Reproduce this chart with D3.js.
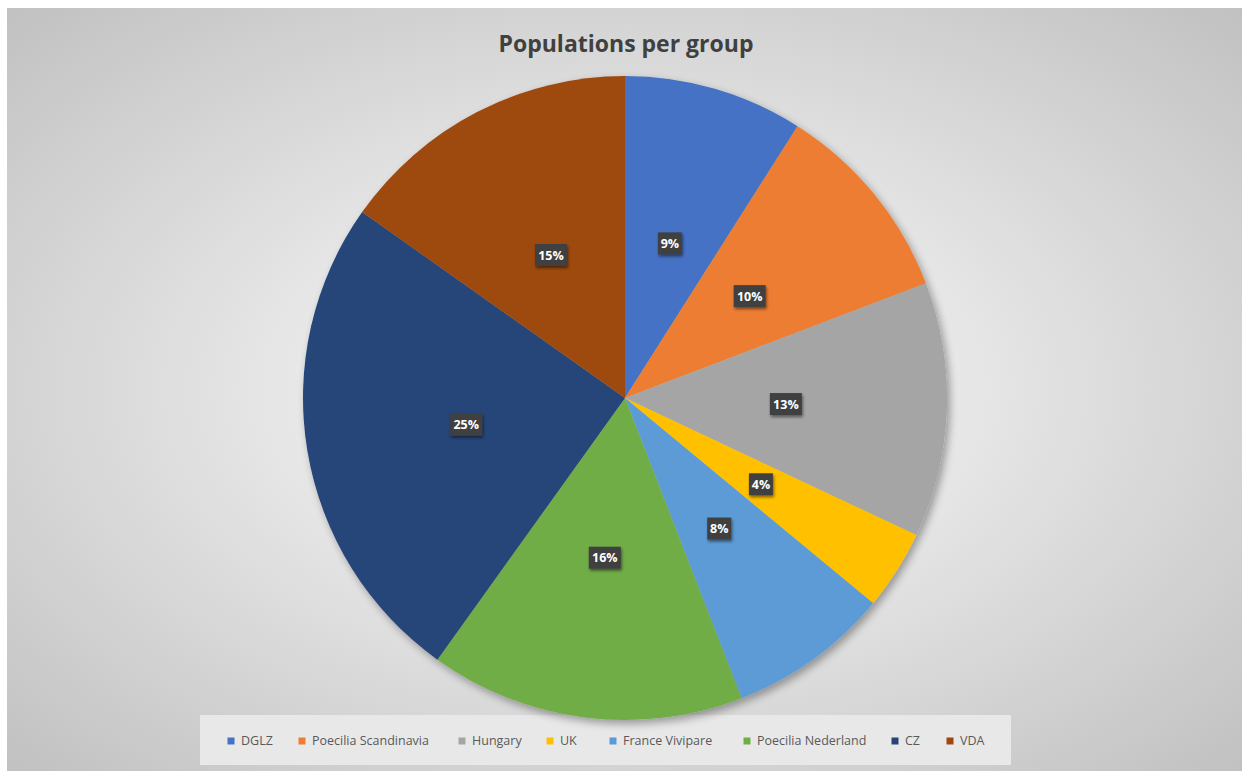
<!DOCTYPE html>
<html><head><meta charset="utf-8">
<script src="https://cdn.jsdelivr.net/npm/d3@7"></script>
<style>html,body{margin:0;padding:0;background:#fff;overflow:hidden}</style>
</head><body>
<svg id="chart" width="1242" height="771"></svg>
<script>
const categories = ["DGLZ","Poecilia Scandinavia","Hungary","UK","France Vivipare","Poecilia Nederland","CZ","VDA"];
const values = [9.0, 10.2, 12.8, 4.0, 8.1, 15.8, 24.9, 15.2];
const labels = ["9%","10%","13%","4%","8%","16%","25%","15%"];
const colors = ["#4472C4","#ED7D31","#A5A5A5","#FFC000","#5B9BD5","#70AD47","#264478","#9E480E"];
const title = "Populations per group";

const svg = d3.select("#chart");
const W = 1242, H = 771;
const defs = svg.append("defs");
const rg = defs.append("radialGradient").attr("id","bg").attr("cx","50%").attr("cy","50%").attr("r","75%");
rg.append("stop").attr("offset","0%").attr("stop-color","#ffffff");
rg.append("stop").attr("offset","100%").attr("stop-color","#bdbdbd");
const f = defs.append("filter").attr("id","sh").attr("x","-20%").attr("y","-20%").attr("width","140%").attr("height","140%");
f.append("feGaussianBlur").attr("in","SourceAlpha").attr("stdDeviation",4).attr("result","b");
f.append("feOffset").attr("in","b").attr("dx",3).attr("dy",4).attr("result","o");
f.append("feComponentTransfer").attr("in","o").attr("result","o2").append("feFuncA").attr("type","linear").attr("slope",0.35);
const m = f.append("feMerge"); m.append("feMergeNode").attr("in","o2"); m.append("feMergeNode").attr("in","SourceGraphic");
const f2 = defs.append("filter").attr("id","lsh").attr("x","-30%").attr("y","-30%").attr("width","160%").attr("height","160%");
f2.append("feGaussianBlur").attr("in","SourceAlpha").attr("stdDeviation",1.5).attr("result","b");
f2.append("feOffset").attr("in","b").attr("dx",1).attr("dy",1.5).attr("result","o");
f2.append("feComponentTransfer").attr("in","o").attr("result","o2").append("feFuncA").attr("type","linear").attr("slope",0.5);
const m2 = f2.append("feMerge"); m2.append("feMergeNode").attr("in","o2"); m2.append("feMergeNode").attr("in","SourceGraphic");

svg.append("rect").attr("x",7).attr("y",8).attr("width",W-7).attr("height",H-8).attr("fill","url(#bg)");

svg.append("text").attr("x",626).attr("y",52).attr("text-anchor","middle")
  .attr("font-family","'Open Sans', sans-serif").attr("font-weight","bold").attr("font-size",23)
  .attr("fill","#404040").text(title);

svg.append("rect").attr("x",200).attr("y",715).attr("width",811).attr("height",50).attr("fill","#e8e8e8");

const cx = 625, cy = 398, R = 322;
const pie = d3.pie().sort(null).value(d => d)(values);
const arc = d3.arc().innerRadius(0).outerRadius(R);
const g = svg.append("g").attr("transform",`translate(${cx},${cy})`);
g.append("g").attr("filter","url(#sh)").selectAll("path").data(pie).join("path")
  .attr("d",arc).attr("fill",(d,i)=>colors[i]);

const lab = d3.arc().innerRadius(R*0.5).outerRadius(R*0.5);
const lg = g.selectAll("g.lab").data(pie).join("g").attr("class","lab")
  .attr("transform",d=>`translate(${lab.centroid(d)})`);
lg.each(function(d,i){
  const s = d3.select(this);
  const w = labels[i].length*8 + 8;
  s.append("rect").attr("x",-w/2).attr("y",-11).attr("width",w).attr("height",22)
    .attr("fill","#404040").attr("filter","url(#lsh)");
  s.append("text").attr("text-anchor","middle").attr("dy","0.36em")
    .attr("font-family","'Open Sans', sans-serif").attr("font-weight","bold").attr("font-size",12.5)
    .attr("fill","#ffffff").text(labels[i]);
});

const legX = [231,302,462,550,613,747,895,950];
const leg = svg.selectAll("g.leg").data(categories).join("g").attr("class","leg")
  .attr("transform",(d,i)=>`translate(${legX[i]},741)`);
leg.append("rect").attr("x",-3.5).attr("y",-3.5).attr("width",7).attr("height",7).attr("fill",(d,i)=>colors[i]);
leg.append("text").attr("x",10).attr("dy","0.35em")
  .attr("font-family","'Open Sans', sans-serif").attr("font-size",12.5).attr("fill","#595959").text(d=>d);
</script>
</body></html>
